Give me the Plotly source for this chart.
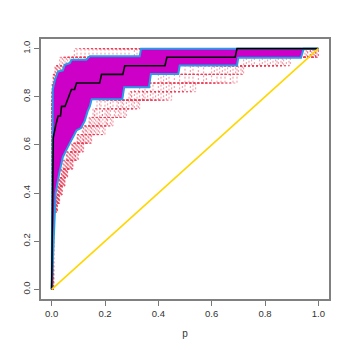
import plotly.graph_objects as go

# ROC-style plot: bootstrap curves (red dotted), pointwise band (magenta),
# band edges (blue), observed curve (black) and the chance diagonal (gold).

# step levels shared by the lower bootstrap curves (k/28)
LEVELS = [0.321, 0.357, 0.393, 0.429, 0.464, 0.5, 0.536, 0.571, 0.607, 0.643,
          0.679, 0.714, 0.75, 0.786, 0.821, 0.857, 0.893, 0.929, 0.964, 1.0]

# x where each lower bootstrap curve reaches each of LEVELS
LOWER_RUNS = [
    [0.004, 0.012, 0.015, 0.02, 0.028, 0.036, 0.042, 0.055, 0.075, 0.095, 0.115, 0.14, 0.155, 0.17, 0.29, 0.31, 0.4, 0.5, 0.72, 0.95],
    [0.005, 0.012, 0.016, 0.022, 0.029, 0.037, 0.045, 0.057, 0.077, 0.097, 0.118, 0.143, 0.16, 0.18, 0.3, 0.33, 0.43, 0.53, 0.74, 0.96],
    [0.005, 0.013, 0.017, 0.023, 0.03, 0.038, 0.047, 0.058, 0.078, 0.098, 0.12, 0.145, 0.162, 0.185, 0.295, 0.325, 0.41, 0.52, 0.73, 0.955],
    [0.005, 0.013, 0.018, 0.024, 0.03, 0.04, 0.05, 0.06, 0.08, 0.1, 0.125, 0.15, 0.17, 0.2, 0.3, 0.34, 0.42, 0.55, 0.75, 0.96],
    [0.005, 0.014, 0.019, 0.025, 0.031, 0.042, 0.052, 0.063, 0.082, 0.104, 0.128, 0.155, 0.18, 0.21, 0.31, 0.35, 0.44, 0.57, 0.76, 0.97],
    [0.006, 0.014, 0.02, 0.027, 0.034, 0.043, 0.056, 0.067, 0.087, 0.108, 0.135, 0.165, 0.19, 0.23, 0.33, 0.38, 0.48, 0.61, 0.79, 0.97],
    [0.005, 0.015, 0.02, 0.026, 0.033, 0.044, 0.055, 0.068, 0.085, 0.11, 0.13, 0.16, 0.19, 0.22, 0.32, 0.37, 0.46, 0.6, 0.78, 0.97],
    [0.006, 0.016, 0.022, 0.028, 0.036, 0.046, 0.06, 0.072, 0.092, 0.115, 0.145, 0.17, 0.2, 0.25, 0.34, 0.4, 0.5, 0.63, 0.8, 0.98],
    [0.006, 0.016, 0.021, 0.027, 0.035, 0.045, 0.058, 0.07, 0.09, 0.12, 0.14, 0.175, 0.21, 0.26, 0.35, 0.42, 0.53, 0.64, 0.82, 0.98],
    [0.006, 0.015, 0.021, 0.029, 0.037, 0.047, 0.061, 0.075, 0.095, 0.118, 0.148, 0.178, 0.205, 0.245, 0.345, 0.41, 0.515, 0.62, 0.81, 0.975],
    [0.006, 0.017, 0.023, 0.03, 0.04, 0.05, 0.065, 0.08, 0.1, 0.125, 0.155, 0.185, 0.22, 0.27, 0.36, 0.43, 0.55, 0.66, 0.83, 0.98],
    [0.006, 0.017, 0.024, 0.031, 0.038, 0.048, 0.062, 0.078, 0.096, 0.12, 0.15, 0.18, 0.215, 0.265, 0.37, 0.44, 0.57, 0.65, 0.84, 0.99],
    [0.007, 0.018, 0.025, 0.032, 0.041, 0.051, 0.068, 0.083, 0.102, 0.128, 0.16, 0.192, 0.235, 0.28, 0.38, 0.45, 0.58, 0.67, 0.845, 0.985],
    [0.007, 0.018, 0.025, 0.033, 0.042, 0.052, 0.07, 0.085, 0.105, 0.13, 0.165, 0.2, 0.24, 0.29, 0.39, 0.46, 0.6, 0.68, 0.85, 0.99],
    [0.007, 0.019, 0.026, 0.034, 0.044, 0.054, 0.072, 0.088, 0.11, 0.135, 0.17, 0.205, 0.25, 0.3, 0.4, 0.48, 0.62, 0.69, 0.86, 0.99],
    [0.007, 0.019, 0.026, 0.035, 0.045, 0.055, 0.073, 0.089, 0.11, 0.138, 0.175, 0.208, 0.255, 0.305, 0.41, 0.49, 0.635, 0.695, 0.865, 0.99],
    [0.007, 0.02, 0.027, 0.036, 0.046, 0.056, 0.075, 0.09, 0.112, 0.14, 0.18, 0.21, 0.26, 0.31, 0.42, 0.5, 0.65, 0.7, 0.87, 0.99],
    [0.007, 0.021, 0.028, 0.038, 0.048, 0.058, 0.078, 0.095, 0.116, 0.145, 0.19, 0.22, 0.27, 0.32, 0.43, 0.52, 0.67, 0.71, 0.88, 0.995],
    [0.008, 0.02, 0.029, 0.039, 0.049, 0.059, 0.079, 0.098, 0.118, 0.148, 0.195, 0.225, 0.275, 0.325, 0.44, 0.53, 0.68, 0.715, 0.89, 1.0],
    [0.008, 0.022, 0.03, 0.04, 0.05, 0.06, 0.08, 0.1, 0.12, 0.15, 0.2, 0.23, 0.28, 0.33, 0.45, 0.54, 0.695, 0.72, 0.895, 1.0],
]

# upper bootstrap curves only differ near the top
UPPER_LEVELS = [0.786, 0.821, 0.857, 0.893, 0.929, 0.964, 1.0]
UPPER_RUNS = [
    [0.001, 0.001, 0.002, 0.005, 0.012, 0.03, 0.085],
    [0.001, 0.001, 0.002, 0.006, 0.014, 0.035, 0.095],
    [0.001, 0.001, 0.003, 0.007, 0.016, 0.04, 0.11],
    [0.001, 0.002, 0.003, 0.008, 0.018, 0.045, 0.125],
    [0.001, 0.002, 0.004, 0.009, 0.02, 0.05, 0.14],
    [0.001, 0.002, 0.004, 0.01, 0.022, 0.055, 0.155],
    [0.001, 0.002, 0.005, 0.012, 0.025, 0.06, 0.17],
    [0.001, 0.003, 0.005, 0.013, 0.028, 0.068, 0.185],
    [0.001, 0.003, 0.006, 0.014, 0.03, 0.075, 0.2],
    [0.001, 0.003, 0.007, 0.016, 0.033, 0.082, 0.215],
    [0.001, 0.003, 0.008, 0.017, 0.036, 0.09, 0.23],
    [0.001, 0.004, 0.009, 0.019, 0.04, 0.1, 0.245],
    [0.001, 0.004, 0.009, 0.02, 0.042, 0.11, 0.26],
    [0.001, 0.004, 0.01, 0.022, 0.045, 0.12, 0.29],
    [0.001, 0.004, 0.01, 0.023, 0.048, 0.125, 0.275],
    [0.001, 0.005, 0.011, 0.024, 0.05, 0.13, 0.31],
    [0.001, 0.005, 0.012, 0.026, 0.055, 0.135, 0.32],
]

# pointwise band edges
BAND_UP_X = [0.0, 0.004, 0.012, 0.024, 0.042, 0.049, 0.068, 0.074, 0.13, 0.143, 0.33, 0.335, 1.0]
BAND_UP_Y = [0.0, 0.83, 0.87, 0.905, 0.91, 0.933, 0.94, 0.954, 0.954, 0.968, 0.968, 1.0, 1.0]
BAND_LO_X = [0.0, 0.015, 0.03, 0.042, 0.06, 0.07, 0.086, 0.093, 0.11, 0.124, 0.135, 0.143, 0.15,
             0.265, 0.272, 0.365, 0.372, 0.475, 0.48, 0.695, 0.70, 0.935, 0.945, 1.0]
BAND_LO_Y = [0.0, 0.40, 0.49, 0.55, 0.59, 0.61, 0.64, 0.66, 0.67, 0.70, 0.74, 0.76, 0.79,
             0.79, 0.84, 0.84, 0.895, 0.895, 0.93, 0.93, 0.9625, 0.9625, 1.0, 1.0]

# observed curve
CURVE_X = [0.0, 0.006, 0.015, 0.024, 0.033, 0.037, 0.05, 0.068, 0.074, 0.086, 0.093, 0.18, 0.187,
           0.267, 0.274, 0.425, 0.432, 0.688, 0.695, 1.0]
CURVE_Y = [0.0, 0.63, 0.68, 0.72, 0.72, 0.76, 0.76, 0.81, 0.83, 0.83, 0.857, 0.857, 0.893,
           0.893, 0.929, 0.929, 0.964, 0.964, 1.0, 1.0]

DIAG = [0.0, 1.0]
TICKS = [0.0, 0.2, 0.4, 0.6, 0.8, 1.0]

RED = "rgba(238,60,85,0.55)"
BLUE = "#2A9BE6"
MAGENTA = "#CD00C8"
FONT = "Liberation Sans, Arial, sans-serif"

fig = go.Figure()

red_line = dict(color=RED, width=1, dash="2px,2px")
for run in LOWER_RUNS:
    fig.add_trace(go.Scatter(x=[0.0] + run + [1.0], y=[0.0] + LEVELS + [1.0],
                             mode="lines", line=red_line, line_shape="hv"))
for run in UPPER_RUNS:
    fig.add_trace(go.Scatter(x=[0.0] + run + [1.0], y=[0.0] + UPPER_LEVELS + [1.0],
                             mode="lines", line=red_line, line_shape="hv"))

# band fill between the two edges
fig.add_trace(go.Scatter(x=BAND_LO_X, y=BAND_LO_Y, mode="lines", line=dict(width=0)))
fig.add_trace(go.Scatter(x=BAND_UP_X, y=BAND_UP_Y, mode="lines", line=dict(width=0),
                         fill="tonexty", fillcolor=MAGENTA))
fig.add_trace(go.Scatter(x=BAND_LO_X, y=BAND_LO_Y, mode="lines", line=dict(color=BLUE, width=2)))
fig.add_trace(go.Scatter(x=BAND_UP_X, y=BAND_UP_Y, mode="lines", line=dict(color=BLUE, width=2)))

fig.add_trace(go.Scatter(x=CURVE_X, y=CURVE_Y, mode="lines", line=dict(color="black", width=1.6)))
fig.add_trace(go.Scatter(x=DIAG, y=DIAG, mode="lines", line=dict(color="#FFD700", width=1.6)))

axis = dict(
    range=[-0.04, 1.04],
    tickvals=TICKS,
    tickformat=".1f",
    ticks="outside",
    ticklen=5,
    tickcolor="#777",
    tickwidth=1,
    showline=True,
    linecolor="#808080",
    linewidth=1.5,
    mirror=True,
    showgrid=False,
    zeroline=False,
    automargin=False,
    tickfont=dict(family=FONT, size=9.5, color="#333"),
)

# the page body adds an 8px offset, so the figure is a bit smaller than the window
fig.update_layout(
    width=342,
    height=342,
    margin=dict(l=33, r=21, t=31, b=51),
    paper_bgcolor="white",
    plot_bgcolor="white",
    showlegend=False,
    xaxis=dict(axis, title=dict(text="p", standoff=12, font=dict(family=FONT, size=10, color="#333"))),
    yaxis=dict(axis, tickangle=-90),
)

fig.write_html("out.html")
